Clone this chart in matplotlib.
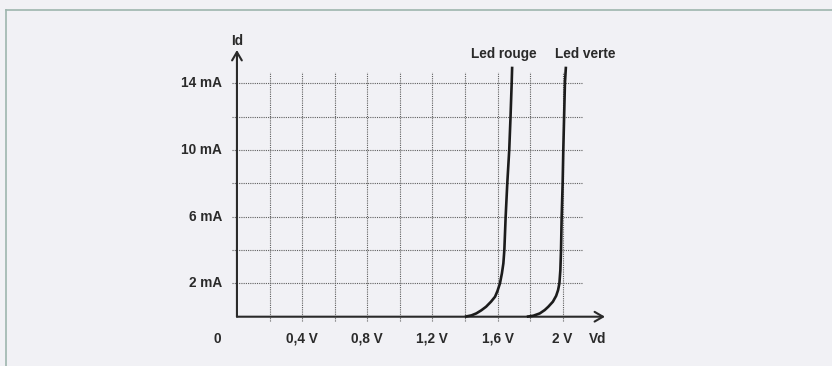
import matplotlib
matplotlib.use("Agg")
import matplotlib.pyplot as plt
from matplotlib.lines import Line2D

# forward characteristic of two LEDs
red_v = [1.40, 1.44, 1.47, 1.50, 1.53, 1.56, 1.585, 1.60, 1.615, 1.627,
         1.636, 1.642, 1.650, 1.660, 1.672, 1.680, 1.687, 1.690]
red_i = [0, 0.08, 0.2, 0.38, 0.6, 0.9, 1.2, 1.55, 2.0, 2.6,
         3.2, 4, 6, 8, 10, 12, 14, 15]
green_v = [1.78, 1.82, 1.86, 1.89, 1.912, 1.94, 1.96, 1.972, 1.98, 1.986,
           1.990, 1.994, 2.000, 2.004, 2.009, 2.014, 2.020]
green_i = [0, 0.06, 0.2, 0.4, 0.6, 0.9, 1.25, 1.6, 2.0, 2.8,
           4, 6, 8, 10, 12, 14, 15]

x_ticks = [0.4, 0.8, 1.2, 1.6, 2.0]
x_labels = ["0,4 V", "0,8 V", "1,2 V", "1,6 V", "2 V"]
y_ticks = [2, 6, 10, 14]
y_labels = ["2 mA", "6 mA", "10 mA", "14 mA"]
grid_v = [0.2, 0.4, 0.6, 0.8, 1.0, 1.2, 1.4, 1.6, 1.8, 2.0]
grid_i = [2, 4, 6, 8, 10, 12, 14]

plt.rcParams["font.family"] = ["Liberation Sans", "DejaVu Sans"]
ink = "#2a2a2a"
bg = "#f1f1f5"

fig = plt.figure(figsize=(8.32, 3.66), dpi=100, facecolor=bg)
ax = fig.add_axes([0, 0, 1, 1])
ax.set_facecolor(bg)
ax.set_xlim(-1.455, 3.654)
ax.set_ylim(-2.957, 19.0)
ax.axis("off")

# frame of the figure box
fig.add_artist(Line2D([0.0078, 0.0078], [0, 0.974], color="#9db5ae", lw=1.2))
fig.add_artist(Line2D([0.0078, 1.0], [0.974, 0.974], color="#9db5ae", lw=1.2))

# dotted grid
for v in grid_v:
    ax.plot([v, v], [-0.25, 14.7], color="#5e5e5e", lw=0.8,
            ls=(0, (1, 1)), zorder=1)
for i in grid_i:
    ax.plot([-0.03, 2.12], [i, i], color="#5e5e5e", lw=0.8,
            ls=(0, (1, 1)), zorder=1)

# axes with open arrow heads
ax.annotate("", xy=(0, 16.0), xytext=(0, 0),
            arrowprops=dict(arrowstyle="->,head_length=0.6,head_width=0.35",
                            color=ink, lw=1.5, shrinkA=0, shrinkB=0))
ax.annotate("", xy=(2.26, 0), xytext=(0, 0),
            arrowprops=dict(arrowstyle="->,head_length=0.6,head_width=0.35",
                            color=ink, lw=1.5, shrinkA=0, shrinkB=0))

# LED curves
ax.plot(red_v, red_i, color="#1c1c1c", lw=1.9, solid_capstyle="butt", zorder=3)
ax.plot(green_v, green_i, color="#1c1c1c", lw=1.9, solid_capstyle="butt", zorder=3)

fs = 9.8
tkw = dict(textcoords="offset pixels", ha="center", va="center",
           fontsize=fs, color=ink, fontweight="bold")
for v, lbl in zip(x_ticks, x_labels):
    ax.annotate(lbl, (v, 0), xytext=(0, -22), **tkw)
for i, lbl in zip(y_ticks, y_labels):
    ax.annotate(lbl, (0, i), xytext=(-15, 0), **{**tkw, "ha": "right"})
ax.annotate("0", (0, 0), xytext=(-20, -22), **tkw)
ax.annotate("Id", (0, 16.0), xytext=(0, 9), **tkw)
ax.annotate("Vd", (2.26, 0), xytext=(-7, -22), **tkw)

ax.annotate("Led rouge", (red_v[-1], red_i[-1]), xytext=(-8, 13), **tkw)
ax.annotate("Led verte", (green_v[-1], green_i[-1]), xytext=(19, 13), **tkw)

fig.savefig("out.png", dpi=100, facecolor=bg)
